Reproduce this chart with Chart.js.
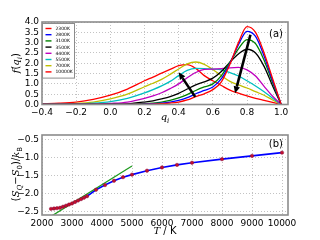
<!DOCTYPE html>
<html><head><meta charset="utf-8">
<script src="https://cdn.jsdelivr.net/npm/chart.js@4"></script>
<style>
body{margin:0;background:#fff;overflow:hidden;}
.box{position:absolute;left:0;width:320px;}
</style></head><body>
<div class="box" style="top:0;height:128px;z-index:1"><canvas id="chartA"></canvas></div>
<div class="box" style="top:120px;height:120px;z-index:2"><canvas id="chartB"></canvas></div>
<script>
// ---- panel (a): f(q_i) for several temperatures
const qValues = [-0.4,-0.3,-0.2,-0.1,0.0,0.1,0.2,0.25,0.3,0.35,0.4,0.45,0.5,0.55,0.6,0.65,0.7,0.75,0.8,0.85,0.9,0.95,1.0];
const tempLabels = ['2300K','2800K','3100K','3500K','4400K','5500K','7000K','10000K'];
const lineColors = ['#ff0000','#0000ff','#008000','#000000','#bf00bf','#00bfbf','#bfbf00','#ff0000'];
const f2300  = [0,0,0,0,0,0,0.01,0.02,0.04,0.07,0.12,0.22,0.38,0.52,0.72,1.1,1.95,3.0,3.78,3.5,2.5,1.25,0];
const f2800  = [0,0,0,0,0,0,0.02,0.04,0.07,0.12,0.2,0.33,0.52,0.68,0.85,1.25,2.0,2.9,3.55,3.3,2.35,1.15,0];
const f3100  = [0,0,0,0,0,0.01,0.04,0.07,0.12,0.2,0.32,0.48,0.68,0.85,1.0,1.4,2.05,2.7,3.15,2.95,2.15,1.05,0];
const f3500  = [0,0,0,0,0.01,0.03,0.12,0.18,0.27,0.38,0.54,0.75,0.95,1.1,1.28,1.6,2.05,2.45,2.68,2.5,1.85,0.9,0];
const f4400  = [0,0,0,0.01,0.05,0.12,0.3,0.42,0.57,0.77,1.0,1.3,1.55,1.7,1.72,1.74,1.78,1.8,1.68,1.38,0.88,0.4,0];
const f5500  = [0,0.01,0.02,0.06,0.14,0.3,0.56,0.72,0.9,1.12,1.4,1.65,1.75,1.74,1.72,1.68,1.55,1.38,1.15,0.9,0.62,0.3,0];
const f7000  = [0.01,0.02,0.05,0.12,0.27,0.5,0.86,1.03,1.22,1.46,1.72,1.97,2.06,1.95,1.7,1.4,1.12,0.95,0.8,0.62,0.45,0.22,0];
const f10000 = [0.03,0.06,0.12,0.25,0.45,0.75,1.15,1.33,1.52,1.7,1.88,1.93,1.75,1.4,1.15,0.92,0.7,0.55,0.42,0.3,0.2,0.1,0];
const qTicks = [-0.4,-0.2,0.0,0.2,0.4,0.6,0.8,1.0];
const fTicks = [0,0.5,1.0,1.5,2.0,2.5,3.0,3.5,4.0];
const arrowFrom = [[0.497,0.37],[0.82,3.38]];
const arrowTo   = [[0.40,1.56],[0.73,0.54]];

// ---- panel (b): entropy vs T
const tempK = [2300,2400,2500,2600,2700,2800,2900,3000,3100,3200,3300,3400,3500,3800,4100,4400,4700,5000,5500,6000,6500,7000,8000,9000,10000];
const entropy = [-2.43,-2.42,-2.41,-2.40,-2.37,-2.34,-2.31,-2.28,-2.24,-2.20,-2.16,-2.12,-2.08,-1.90,-1.77,-1.65,-1.55,-1.48,-1.37,-1.28,-1.21,-1.15,-1.05,-0.96,-0.87];
const fitT = [2200,5000];
const fitS = [-2.69,-1.24];
const tTicks = [2000,3000,4000,5000,6000,7000,8000,9000,10000];
const sTicks = [-2.5,-2.0,-1.5,-1.0,-0.5];

const fam = '"DejaVu Sans"';
const tickFont = {family: 'DejaVu Sans', size: 9};
function fmt1(v){ return v.toFixed(1).replace('-', '\u2212'); }

function fontOf(r, size){
  const s = r.sub ? Math.round(size*0.7) : size;
  return r.it ? 'italic ' + s + 'px "DejaVu Serif"' : s + 'px ' + fam;
}
function drawRich(ctx, runs, cx, cy, size, rot){
  ctx.save();
  ctx.translate(cx, cy);
  if (rot) ctx.rotate(-Math.PI/2);
  let w = 0;
  runs.forEach(r => { ctx.font = fontOf(r, size); w += ctx.measureText(r.t).width; });
  let x = -w/2;
  ctx.fillStyle = '#000';
  ctx.textBaseline = 'alphabetic';
  ctx.textAlign = 'left';
  runs.forEach(r => {
    ctx.font = fontOf(r, size);
    ctx.fillText(r.t, x, size*0.35 + (r.sub ? size*0.3 : 0));
    x += ctx.measureText(r.t).width;
  });
  ctx.restore();
}

// frame, titles, panel tag
const decor = {
  id: 'decor',
  afterDatasetsDraw(chart, args, o){
    const ctx = chart.ctx, a = chart.chartArea;
    ctx.save();
    ctx.strokeStyle = '#8c8c8c';
    ctx.lineWidth = 1.6;
    ctx.strokeRect(a.left, a.top, a.right - a.left, a.bottom - a.top);
    ctx.fillStyle = '#000';
    ctx.font = '10px ' + fam;
    ctx.textAlign = 'right';
    ctx.textBaseline = 'alphabetic';
    ctx.fillText(o.tag, a.right - 5, a.top + o.tagDy);
    ctx.restore();
    drawRich(ctx, o.xTitle, (a.left + a.right)/2, o.xTitleY, 10, false);
    drawRich(ctx, o.yTitle, o.yTitleX, (a.top + a.bottom)/2 + o.yTitleDy, 10, true);
  }
};

// legend box inside panel (a)
const boxLegend = {
  id: 'boxLegend',
  afterDraw(chart){
    const ctx = chart.ctx, a = chart.chartArea;
    const ds = chart.data.datasets;
    const x0 = a.left + 0.5, y0 = a.top + 1.5, w = 32, rowH = 6.2;
    const h = ds.length*rowH + 5;
    ctx.save();
    ctx.fillStyle = '#fff';
    ctx.fillRect(x0, y0, w, h);
    ctx.strokeStyle = '#8c8c8c';
    ctx.lineWidth = 1;
    ctx.strokeRect(x0, y0, w, h);
    ctx.font = '4.5px ' + fam;
    ctx.textBaseline = 'middle';
    ctx.textAlign = 'left';
    ds.forEach((d, i) => {
      const y = y0 + 5 + i*rowH;
      ctx.strokeStyle = d.borderColor;
      ctx.lineWidth = 1.4;
      ctx.beginPath(); ctx.moveTo(x0 + 3, y); ctx.lineTo(x0 + 9, y); ctx.stroke();
      ctx.fillStyle = '#000';
      ctx.fillText(d.label, x0 + 13, y + 0.3);
    });
    ctx.restore();
  }
};

// black arrows in panel (a)
const arrows = {
  id: 'arrows',
  afterDatasetsDraw(chart){
    const ctx = chart.ctx, sx = chart.scales.x, sy = chart.scales.y;
    ctx.save();
    ctx.fillStyle = '#000';
    ctx.strokeStyle = '#000';
    arrowFrom.forEach((p, i) => {
      const x1 = sx.getPixelForValue(p[0]), y1 = sy.getPixelForValue(p[1]);
      const x2 = sx.getPixelForValue(arrowTo[i][0]), y2 = sy.getPixelForValue(arrowTo[i][1]);
      const ang = Math.atan2(y2 - y1, x2 - x1), hl = 7, hw = 3.2;
      const bx = x2 - hl*Math.cos(ang), by = y2 - hl*Math.sin(ang);
      ctx.lineWidth = 2.6;
      ctx.beginPath(); ctx.moveTo(x1, y1); ctx.lineTo(bx, by); ctx.stroke();
      ctx.beginPath();
      ctx.moveTo(x2, y2);
      ctx.lineTo(bx + hw*Math.sin(ang), by - hw*Math.cos(ang));
      ctx.lineTo(bx - hw*Math.sin(ang), by + hw*Math.cos(ang));
      ctx.closePath(); ctx.fill();
    });
    ctx.restore();
  }
};

function axis(min, max, ticks, fmt, fitFn){
  return {
    type: 'linear', min: min, max: max,
    afterBuildTicks: s => { s.ticks = ticks.map(v => ({value: v})); },
    afterFit: fitFn,
    ticks: {font: tickFont, color: '#000', padding: 3, maxRotation: 0, autoSkip: false, callback: v => fmt(v)},
    grid: {color: '#b4b4b4', lineWidth: 0.8, drawTicks: false},
    border: {display: false, dash: [1, 2]}
  };
}

const seriesA = [f2300, f2800, f3100, f3500, f4400, f5500, f7000, f10000];
new Chart(document.getElementById('chartA'), {
  type: 'line',
  data: {
    datasets: seriesA.map((vals, i) => ({
      label: tempLabels[i],
      data: qValues.map((q, j) => ({x: q, y: vals[j]})),
      borderColor: lineColors[i],
      borderWidth: 1.3,
      pointRadius: 0,
      fill: false,
      cubicInterpolationMode: 'monotone'
    }))
  },
  options: {
    responsive: true,
    maintainAspectRatio: false,
    animation: false,
    layout: {padding: {top: 22, right: 32, bottom: 8, left: 0}},
    plugins: {
      legend: {display: false}, tooltip: {enabled: false},
      decor: {tag: '(a)', tagDy: 15, xTitleY: 116, yTitleX: 15, yTitleDy: 0,
        xTitle: [{t: 'q', it: true}, {t: 'i', it: true, sub: true}],
        yTitle: [{t: 'f', it: true}, {t: '('}, {t: 'q', it: true}, {t: 'i', it: true, sub: true}, {t: ')'}]}
    },
    scales: {
      x: axis(-0.4, 1.04, qTicks, fmt1, s => { s.height = 15.5; }),
      y: axis(0, 4, fTicks, fmt1, s => { s.width = 42; })
    }
  },
  plugins: [arrows, decor, boxLegend]
});

new Chart(document.getElementById('chartB'), {
  type: 'line',
  data: {
    datasets: [
      {label: 'points', data: tempK.map((t, j) => ({x: t, y: entropy[j]})), showLine: false,
       pointRadius: 1.7, pointBackgroundColor: '#c4102c', pointBorderColor: '#8a0a3a', pointBorderWidth: 0.5},
      {label: 'fit', data: fitT.map((t, j) => ({x: t, y: fitS[j]})), borderColor: '#1e9a1e', borderWidth: 1.3, pointRadius: 0},
      {label: 'line', data: tempK.map((t, j) => ({x: t, y: entropy[j]})), borderColor: '#0000ff', borderWidth: 1.6, pointRadius: 0}
    ]
  },
  options: {
    responsive: true,
    maintainAspectRatio: false,
    animation: false,
    layout: {padding: {top: 15, right: 32, bottom: 0, left: 0}},
    plugins: {
      legend: {display: false}, tooltip: {enabled: false},
      decor: {tag: '(b)', tagDy: 12, xTitleY: 110, yTitleX: 15, yTitleDy: -1,
        xTitle: [{t: 'T', it: true}, {t: ' / K'}],
        yTitle: [{t: '('}, {t: 'S', it: true}, {t: 'Q', it: true, sub: true}, {t: '\u2212'}, {t: 'S', it: true}, {t: '0', sub: true}, {t: ')/'}, {t: 'k', it: true}, {t: 'B', sub: true}]}
    },
    scales: {
      x: axis(2000, 10200, tTicks, v => String(v), s => { s.height = 25; }),
      y: axis(-2.6, -0.38, sTicks, fmt1, s => { s.width = 42; })
    }
  },
  plugins: [decor]
});
</script>
</body></html>
